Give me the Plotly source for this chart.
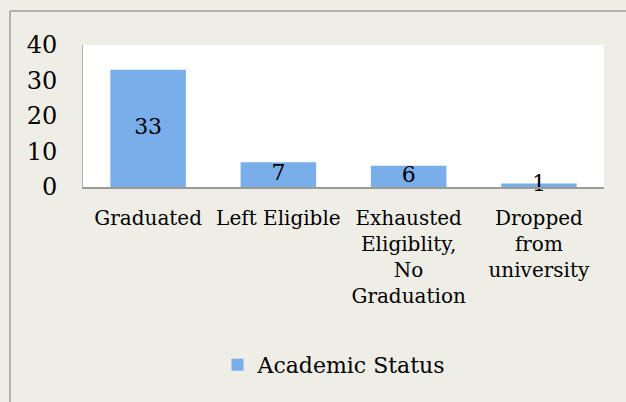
import plotly.graph_objects as go

categories = ["Graduated", "Left Eligible", "Exhausted<br>Eligiblity,<br>No<br>Graduation", "Dropped<br>from<br>university"]
values = [33, 7, 6, 1]
series_name = "Academic Status"
y_ticks = [0, 10, 20, 30, 40]

FONT = "DejaVu Serif"
W, H = 626, 402
L, R, T, B = 83, 22, 45, 215
PW, PH = W - L - R, H - T - B

def px_x(px):
    return (px - L) / PW

def px_y(py):
    return (H - B - py) / PH

fig = go.Figure()
fig.add_trace(go.Bar(
    x=categories, y=values, name=series_name,
    marker=dict(color="#7aaeea", line=dict(width=0)),
    showlegend=True,
))
fig.add_trace(go.Scatter(
    x=categories, y=[v / 2 for v in values], mode="text",
    text=[str(v) for v in values], textposition="middle center",
    textfont=dict(family=FONT, size=22, color="#000000"),
    showlegend=False, cliponaxis=False, hoverinfo="skip",
))

fig.update_layout(
    width=W, height=H,
    margin=dict(l=L, r=R, t=T, b=B),
    paper_bgcolor="#efeee6", plot_bgcolor="#ffffff",
    bargap=0.42,
    font=dict(family=FONT, color="#000000"),
    legend=dict(orientation="h", x=px_x(334), y=px_y(365), xanchor="center", yanchor="middle",
                font=dict(family=FONT, size=22), bgcolor="rgba(0,0,0,0)", itemwidth=30),
    xaxis=dict(showgrid=False, showline=True, linecolor="#9a9a9a", linewidth=2,
               ticks="", tickfont=dict(family=FONT, size=20), ticklabelstandoff=12),
    yaxis=dict(range=[0, 40], tickvals=y_ticks, showgrid=False, showline=True,
               linecolor="#b0b0b0", linewidth=1, ticks="", zeroline=False,
               tickfont=dict(family=FONT, size=24), ticklabelstandoff=20),
    shapes=[
        dict(type="line", xref="paper", yref="paper", x0=px_x(10), x1=px_x(640), y0=px_y(11), y1=px_y(11),
             line=dict(color="#9a9a9a", width=1.5)),
        dict(type="line", xref="paper", yref="paper", x0=px_x(10), x1=px_x(10), y0=px_y(11), y1=px_y(420),
             line=dict(color="#9a9a9a", width=1.5)),
    ],
)
fig.write_html("out.html", config={"displayModeBar": False},
               post_script="document.body.style.margin='0';")
